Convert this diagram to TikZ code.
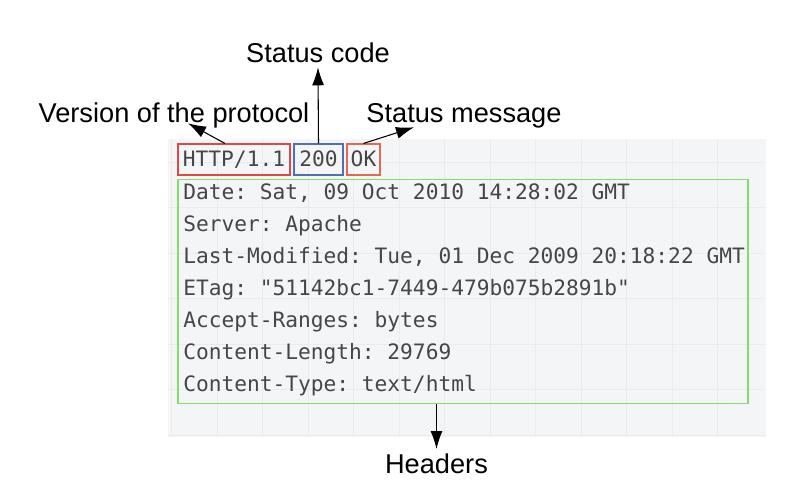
\documentclass[tikz,border=0pt]{standalone}
\usepackage{fontspec}
\setmainfont{Liberation Sans}
\setmonofont{DejaVu Sans Mono}
\usepackage{tikz}
\usetikzlibrary{arrows.meta}

\definecolor{panelgray}{HTML}{F4F5F6}
\definecolor{gridgray}{HTML}{EAEBED}
\definecolor{msggray}{HTML}{464646}
\definecolor{verred}{HTML}{E04848}
\definecolor{codeblue}{HTML}{5070B0}
\definecolor{okred}{HTML}{E06A55}
\definecolor{hdrgreen}{HTML}{7EE06A}

\tikzset{
  lbltext/.style={font=\fontsize{20.4pt}{24pt}\selectfont, inner sep=0pt, text depth=0pt, anchor=base},
  msgline/.style={font=\ttfamily\fontsize{15.9pt}{19pt}\selectfont, text=msggray, inner sep=0pt, anchor=base west},
  partbox/.style={draw, line width=0.9pt, font=\ttfamily\fontsize{15.9pt}{19pt}\selectfont, text=msggray,
    inner xsep=0pt, inner ysep=3pt, text height=14pt, text depth=3.2pt, anchor=base},
  arr/.style={-{Latex[length=13.5pt,width=9pt]}, line width=0.8pt},
}

\begin{document}
\begin{tikzpicture}[x=0.75pt, y=-0.75pt]
    \useasboundingbox (0,0) rectangle (792,501);

    % message panel
    \fill[panelgray] (168,139) rectangle (766,437);
    \foreach \gx in {171.5,217,...,762}
        \draw[gridgray, line width=0.6pt] (\gx,139) -- (\gx,437);
    \foreach \gy in {162,207.5,...,437}
        \draw[gridgray, line width=0.6pt] (168,\gy) -- (766,\gy);

    \node[lbltext] (statcode) at (318,62) {Status code};
    \node[lbltext] (version) at (174,122) {Version of the protocol};
    \node[lbltext] (statmsg) at (464,122) {Status message};
    \node[lbltext] (headers) at (436.5,473) {Headers};

    % status line
    \node[partbox, draw=verred, minimum width=84pt] (proto) at (234,166.7) {HTTP/1.1};
    \node[partbox, draw=codeblue, minimum width=36.75pt] (code) at (318.5,166.7) {200};
    \node[partbox, draw=okred, minimum width=24.75pt] (msg) at (363.5,166.7) {OK};

    % header fields
    \node[draw=hdrgreen, line width=0.9pt, minimum width=427.5pt, minimum height=168pt, inner sep=0pt] (hdrbox) at (463,291.5) {};
    \node[msgline] (date) at (183,199.5) {Date: Sat, 09 Oct 2010 14:28:02 GMT};
    \node[msgline] (server) at (183,231.5) {Server: Apache};
    \node[msgline] (lastmod) at (183,263.5) {Last-Modified: Tue, 01 Dec 2009 20:18:22 GMT};
    \node[msgline] (etag) at (183,295.5) {ETag: "51142bc1-7449-479b075b2891b"};
    \node[msgline] (ranges) at (183,327.5) {Accept-Ranges: bytes};
    \node[msgline] (length) at (183,359.5) {Content-Length: 29769};
    \node[msgline] (ctype) at (183,391.5) {Content-Type: text/html};

    \draw[arr] ([xshift=-6.75pt]proto.north) -- ([xshift=10.5pt,yshift=-0.75pt]version.south);
    \draw[arr] (code.north) -- ([yshift=-3.75pt]statcode.south);
    \draw[arr] (msg.north) -- ([xshift=-37.5pt,yshift=-3.75pt]statmsg.south);
    \draw[arr] (headers.north |- hdrbox.south) -- ([yshift=3pt]headers.north);

\end{tikzpicture}
\end{document}
